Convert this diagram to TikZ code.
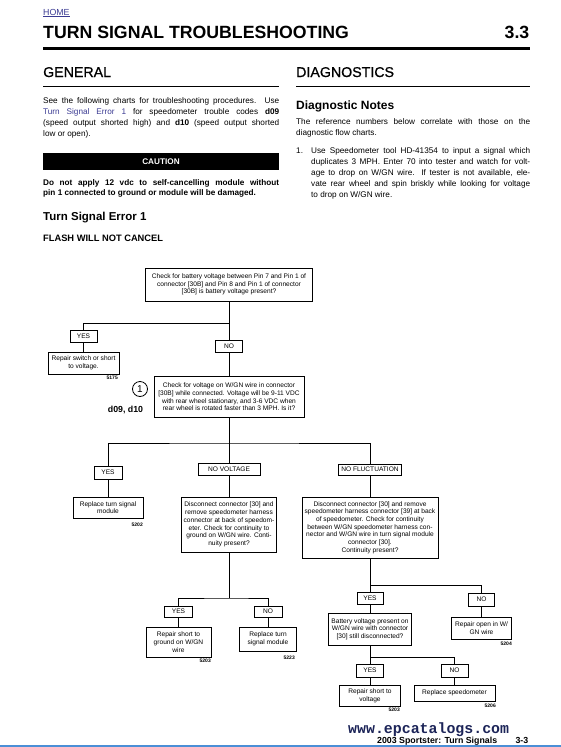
\documentclass[tikz,border=0pt]{standalone}
\usepackage{fontspec}
\setmainfont{Liberation Sans}
\setmonofont{Liberation Mono}
\newfontfamily\headfont{Liberation Sans}[FakeBold=0.8]
\definecolor{PageLink}{HTML}{3A3A92}
\definecolor{FooterNavy}{HTML}{1C2458}
\definecolor{FooterBlue}{HTML}{4B8FD6}
\newcommand\setfs[2]{\fontsize{#1}{#2}\selectfont}
\hyphenpenalty=10000
\exhyphenpenalty=10000
\tikzset{
  chartbox/.style={draw,line width=0.8pt,align=center,inner sep=0pt,font=\setfs{6.6}{7.7}},
  answer/.style={chartbox,minimum height=12pt},
  refno/.style={anchor=base east,inner sep=0pt,font=\setfs{5}{6}\bfseries},
  link/.style={line width=0.8pt},
  bodytext/.style={anchor=base west,inner sep=0pt,align=justify,font=\setfs{8.2}{11}},
  heading/.style={anchor=base west,inner sep=0pt}
}

\begin{document}
\begin{tikzpicture}[x=1pt,y=-1pt]
  % page laid out in pixel units, origin at the top left corner
  \useasboundingbox (0,0) rectangle (561,747);

  % header
  \node[heading,font=\setfs{8.8}{10},text=PageLink] (home) at (43,15) {\underline{HOME}};
  \node[heading,font=\setfs{17.7}{20}\bfseries] (title) at (43,38.5) {TURN SIGNAL TROUBLESHOOTING};
  \node[anchor=base east,inner sep=0pt,font=\setfs{17.7}{20}\bfseries] (section) at (529.5,38.5) {3.3};
  \draw[line width=3.5pt] (43,48.5) -- (529.5,48.5);

  % left column
  \node[heading,font=\headfont\setfs{14.2}{16}] (general) at (43,77) {GENERAL};
  \draw[line width=0.9pt] (43,86) -- (279,86);
  \node[bodytext,text width=236pt] (generaltext) at (43,103.5)
    {See the following charts for troubleshooting procedures. Use\linebreak
     {\color{PageLink}Turn Signal Error 1} for speedometer trouble codes \textbf{d09}\linebreak
     (speed output shorted high) and \textbf{d10} (speed output shorted\linebreak
     low or open).};
  \node[fill=black,minimum width=236pt,minimum height=17pt,inner sep=0pt,text=white,
    font=\setfs{8.2}{10}\bfseries] (caution) at (161,161.5) {CAUTION};
  \node[bodytext,text width=236pt,font=\setfs{8.2}{10.2}\bfseries] (cautiontext) at (43,185)
    {Do not apply 12 vdc to self-cancelling module without\linebreak
     pin 1 connected to ground or module will be damaged.};
  \node[heading,font=\setfs{11.5}{13}\bfseries] (errortitle) at (43,220) {Turn Signal Error 1};
  \node[heading,font=\setfs{9.3}{11}\bfseries] (symptom) at (43,241.5) {FLASH WILL NOT CANCEL};

  % right column
  \node[heading,font=\headfont\setfs{14.2}{16}] (diag) at (296,77) {DIAGNOSTICS};
  \draw[line width=0.9pt] (296,86) -- (529.5,86);
  \node[heading,font=\setfs{12}{14}\bfseries] (notes) at (296,109) {Diagnostic Notes};
  \node[bodytext,text width=234pt] (notestext) at (296,124.5)
    {The reference numbers below correlate with those on the\linebreak
     diagnostic flow charts.};
  \node[heading,font=\setfs{8.2}{11}] (itemno) at (296,153.5) {1.};
  \node[bodytext,text width=219pt] (itemtext) at (311,153.5)
    {Use Speedometer tool HD-41354 to input a signal which\linebreak
     duplicates 3 MPH. Enter 70 into tester and watch for volt-\linebreak
     age to drop on W/GN wire. If tester is not available, ele-\linebreak
     vate rear wheel and spin briskly while looking for voltage\linebreak
     to drop on W/GN wire.};

  % flow chart
  \node[chartbox,minimum width=167pt,minimum height=33pt] (battery) at (229,284.5)
    {Check for battery voltage between Pin 7 and Pin 1 of\\connector {[30B]} and Pin 8 and Pin 1 of connector\\{[30B]} is battery voltage present?};
  \node[answer,minimum width=27pt] (yes1) at (83.5,336) {YES};
  \node[chartbox,minimum width=71pt,minimum height=22pt] (repairswitch) at (83.5,363)
    {Repair switch or short\\to voltage.};
  \node[refno] (ref5175) at (118,379) {5175};
  \node[answer,minimum width=27pt] (no1) at (229,346) {NO};

  \node[chartbox,minimum width=150pt,minimum height=41pt] (wgnvolt) at (229,397)
    {Check for voltage on W/GN wire in connector\\{[30B]} while connected. Voltage will be 9-11 VDC\\with rear wheel stationary, and 3-6 VDC when\\rear wheel is rotated faster than 3 MPH. Is it?};
  \node[circle,draw,line width=0.8pt,minimum size=15pt,inner sep=0pt,font=\setfs{10}{12}] (note1) at (140,389) {1};
  \node[inner sep=0pt,font=\setfs{8.8}{10}\bfseries] (codes) at (125.5,410) {d09, d10};

  \node[answer,minimum width=28pt,minimum height=13pt] (yes2) at (108,472.5) {YES};
  \node[answer,minimum width=62pt] (novolt) at (229,469) {NO VOLTAGE};
  \node[answer,minimum width=63pt,minimum height=11pt] (nofluct) at (370,469.5) {NO FLUCTUATION};

  \node[chartbox,minimum width=70pt,minimum height=21pt] (replacemod) at (108,507.5)
    {Replace turn signal\\module};
  \node[refno] (ref5202) at (143,526) {5202};
  \node[chartbox,minimum width=95pt,minimum height=55pt] (groundtest) at (229,524.5)
    {Disconnect connector {[30]} and\\remove speedometer harness\\connector at back of speedom-\\eter. Check for continuity to\\ground on W/GN wire. Conti-\\nuity present?};
  \node[chartbox,minimum width=136pt,minimum height=61pt] (harnesstest) at (370,527.5)
    {Disconnect connector {[30]} and remove\\speedometer harness connector {[39]} at back\\of speedometer. Check for continuity\\between W/GN speedometer harness con-\\nector and W/GN wire in turn signal module\\connector {[30]}.\\Continuity present?};

  \node[answer,minimum width=28pt,minimum height=11pt] (yes3) at (178.5,611.5) {YES};
  \node[answer,minimum width=28pt,minimum height=11pt] (no3) at (268,611.5) {NO};
  \node[chartbox,minimum width=65pt,minimum height=30pt] (repairground) at (178.5,642)
    {Repair short to\\ground on W/GN\\wire};
  \node[refno] (ref5203a) at (211,662) {5203};
  \node[chartbox,minimum width=57pt,minimum height=24pt] (replacemod2) at (268,639)
    {Replace turn\\signal module};
  \node[refno] (ref5223) at (295,659) {5223};

  \node[answer,minimum width=26pt] (yes4) at (370,598.5) {YES};
  \node[answer,minimum width=26pt,minimum height=13pt] (no4) at (481.5,599.5) {NO};
  \node[chartbox,minimum width=83pt,minimum height=32pt] (batterywgn) at (370,629)
    {Battery voltage present on\\W/GN wire with connector\\{[30]} still disconnected?};
  \node[chartbox,minimum width=60pt,minimum height=22pt] (repairopen) at (481.5,628)
    {Repair open in W/\\GN wire};
  \node[refno] (ref5204) at (512,645) {5204};

  \node[answer,minimum width=27pt,minimum height=13pt] (yes5) at (370,670.5) {YES};
  \node[answer,minimum width=27pt,minimum height=13pt] (no5) at (454.5,670.5) {NO};
  \node[chartbox,minimum width=61pt,minimum height=21pt] (repairvolt) at (370,695.5)
    {Repair short to\\voltage};
  \node[refno] (ref5203b) at (400,711) {5203};
  \node[chartbox,minimum width=81pt,minimum height=16pt] (replacespeedo) at (454.5,693)
    {Replace speedometer};
  \node[refno] (ref5206) at (496,707) {5206};

  % junctions of the branch lines
  \coordinate (j1) at (229,323);
  \coordinate (j2) at (229,443);
  \coordinate (j3) at (229,598);
  \coordinate (j4) at (370,585);
  \coordinate (j5) at (370,657);

  \draw[link] (battery) -- (no1);
  \draw[link] (yes1) |- (j1);
  \draw[link] (yes1) -- (repairswitch);
  \draw[link] (no1) -- (wgnvolt);
  \draw[link] (wgnvolt) -- (novolt);
  \draw[link] (yes2) |- (j2) -| (nofluct);
  \draw[link] (yes2) -- (replacemod);
  \draw[link] (novolt) -- (groundtest);
  \draw[link] (nofluct) -- (harnesstest);
  \draw[link] (groundtest) -- (j3);
  \draw[link] (yes3) |- (j3) -| (no3);
  \draw[link] (yes3) -- (repairground);
  \draw[link] (no3) -- (replacemod2);
  \draw[link] (harnesstest) -- (yes4);
  \draw[link] (j4) -| (no4);
  \draw[link] (yes4) -- (batterywgn);
  \draw[link] (no4) -- (repairopen);
  \draw[link] (batterywgn) -- (yes5);
  \draw[link] (j5) -| (no5);
  \draw[link] (yes5) -- (repairvolt);
  \draw[link] (no5) -- (replacespeedo);

  % footer
  \node[anchor=base west,inner sep=0pt,font=\ttfamily\bfseries\setfs{14.9}{16},text=FooterNavy] (site) at (348,733.5) {www.epcatalogs.com};
  \node[anchor=base west,inner sep=0pt,font=\setfs{8.8}{10}\bfseries] (footer) at (377,743.5) {2003 Sportster: Turn Signals};
  \node[anchor=base east,inner sep=0pt,font=\setfs{8.8}{10}\bfseries] (pageno) at (528.5,743.5) {3-3};
  \draw[FooterBlue,line width=1.4pt] (0,746) -- (561,746);
\end{tikzpicture}
\end{document}
